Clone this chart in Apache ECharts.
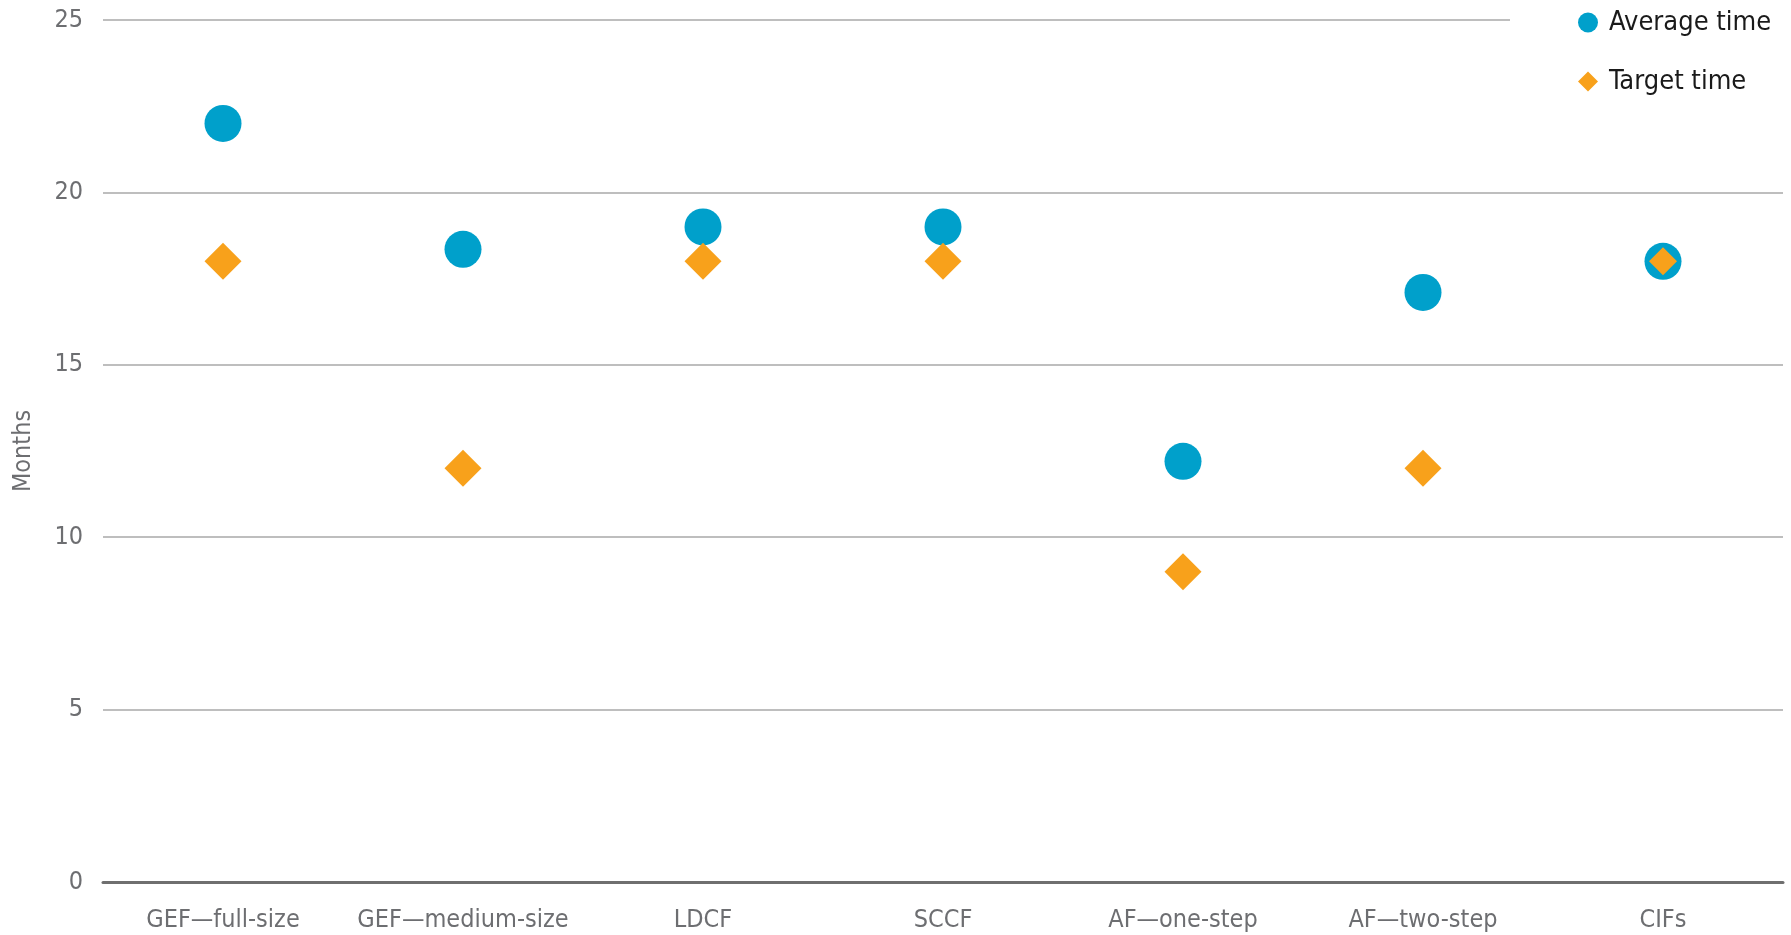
<!DOCTYPE html>
<html>
<head>
<meta charset="utf-8">
<script src="https://cdn.jsdelivr.net/npm/echarts@6/dist/echarts.min.js"></script>
<style>
html,body{margin:0;padding:0;background:#fff;}
#chart{width:1791px;height:935px;}
</style>
</head>
<body>
<div id="chart"></div>
<script>
const categories = ['GEF\u2014full-size','GEF\u2014medium-size','LDCF','SCCF','AF\u2014one-step','AF\u2014two-step','CIFs'];
const averageTime = [22, 18.35, 19, 19, 12.2, 17.1, 18];
const targetTime = [18, 12, 18, 18, 9, 12, 18];
const yTicks = [0, 5, 10, 15, 20, 25];

const FONT = "'Liberation Sans Narrow','DejaVu Sans Condensed','Roboto',sans-serif";
const chart = echarts.init(document.getElementById('chart'));
chart.setOption({
  animation: false,
  backgroundColor: '#fff',
  grid: {left: 103, right: 8, top: 20, bottom: 53, containLabel: false, outerBoundsMode: 'none'},
  legend: {
    orient: 'vertical',
    left: 1510,
    top: 0,
    padding: [9, 20, 8, 68],
    backgroundColor: '#fff',
    itemWidth: 20,
    itemHeight: 20,
    itemGap: 32,
    textStyle: {fontFamily: FONT, fontSize: 27, color: '#1a1a1a', padding: [0, 0, 0, 6]},
    data: [{name: 'Average time', icon: 'circle'}, {name: 'Target time', icon: 'diamond'}]
  },
  xAxis: {
    type: 'category',
    data: categories,
    boundaryGap: true,
    axisLine: {show: true, lineStyle: {color: '#6f6f6f', width: 3}},
    axisTick: {show: false},
    axisLabel: {fontFamily: FONT, fontSize: 25, color: '#6d6e71', margin: 26, interval: 0}
  },
  yAxis: {
    type: 'value',
    min: yTicks[0],
    max: yTicks[yTicks.length - 1],
    interval: yTicks[1] - yTicks[0],
    name: 'Months',
    nameLocation: 'middle',
    nameGap: 67,
    nameMoveOverlap: false,
    nameTextStyle: {fontFamily: FONT, fontSize: 25, color: '#6d6e71'},
    axisLine: {show: false},
    axisTick: {show: false},
    axisLabel: {fontFamily: FONT, fontSize: 25, color: '#6d6e71', margin: 20},
    splitLine: {show: true, lineStyle: {color: '#a8a8a8', width: 1.5}}
  },
  series: [
    {
      name: 'Average time',
      type: 'scatter',
      symbol: 'circle',
      symbolSize: 37,
      itemStyle: {color: '#00a0cb', opacity: 1},
      data: averageTime,
      z: 2
    },
    {
      name: 'Target time',
      type: 'scatter',
      symbol: 'diamond',
      symbolSize: 37,
      itemStyle: {color: '#f8a11b', opacity: 1},
      data: targetTime.map((v, i) => v === averageTime[i] ? {value: v, symbolSize: 28} : v),
      z: 3
    }
  ]
});
</script>
</body>
</html>
